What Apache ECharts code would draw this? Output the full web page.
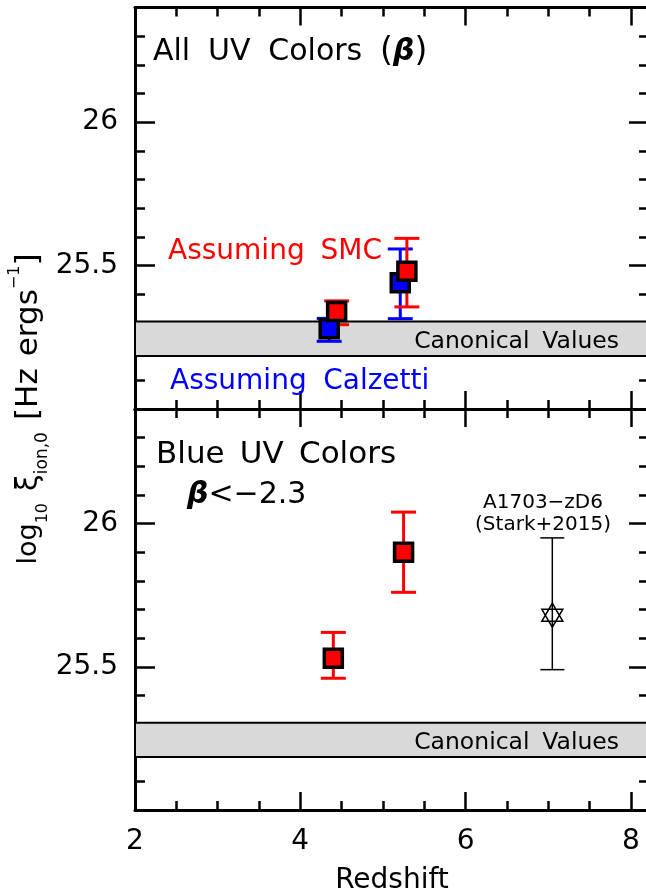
<!DOCTYPE html>
<html><head><meta charset="utf-8">
<script src="https://cdn.jsdelivr.net/npm/echarts@6/dist/echarts.min.js"></script>
<style>html,body{margin:0;padding:0;background:#fff;overflow:hidden}#c{width:646px;height:889px}</style>
</head><body><div id="c"></div><script>
// ---- data ----
const calzettiZ  = [4.35, 5.21];
const calzettiXi = [25.28, 25.44];
const calzettiLo = [25.236, 25.315];
const calzettiHi = [25.316, 25.558];

const smcZ  = [4.44, 5.29];
const smcXi = [25.34, 25.48];
const smcLo = [25.294, 25.356];
const smcHi = [25.377, 25.595];

const blueZ  = [4.40, 5.25];
const blueXi = [25.53, 25.90];
const blueLo = [25.46, 25.76];
const blueHi = [25.62, 26.04];

const starkZ  = [7.05];
const starkXi = [25.68];
const starkLo = [25.49];
const starkHi = [25.95];

const canonicalBand = [25.185, 25.305];

const xTickLabels = ['2', '4', '6', '8'];
const yTickLabels = ['25.5', '26'];

// ---- layout / style ----
const FONT = 'DejaVu Sans';
const X_MIN = 2, X_MAX = 8.22, Y_MIN = 25, Y_MAX = 26.4;
const RED = '#ff0000', BLUE = '#0000ff';

const grids = [
  {left: 135, top: 7.5, width: 514, height: 401.5, outerBoundsMode: 'none', containLabel: false},
  {left: 135, top: 409, width: 514, height: 401, outerBoundsMode: 'none', containLabel: false}
];

const xAxes = [], yAxes = [];
for (let g = 0; g < 2; g++) {
  for (const pos of ['bottom', 'top']) {
    for (const major of [true, false]) {
      const showLabel = g === 1 && pos === 'bottom' && major;
      xAxes.push({
        type: 'value', gridIndex: g, position: pos, min: X_MIN, max: X_MAX,
        interval: major ? 2 : 0.5,
        axisLine: {show: major, onZero: false, lineStyle: {color: '#000', width: 3}},
        axisTick: {show: true, inside: true, length: major ? 18 : 9, lineStyle: {color: '#000', width: 2.5}},
        axisLabel: {
          show: showLabel, margin: 18, color: '#000', fontFamily: FONT, fontSize: 28,
          formatter: v => { const s = xTickLabels.find(l => Math.abs(Number(l) - v) < 1e-6); return s || ''; }
        },
        splitLine: {show: false},
        name: showLabel ? 'Redshift' : '', nameLocation: 'middle', nameGap: 57,
        nameTextStyle: {color: '#000', fontFamily: FONT, fontSize: 28}
      });
    }
  }
  for (const pos of ['left', 'right']) {
    for (const major of [true, false]) {
      const showLabel = pos === 'left' && major;
      yAxes.push({
        type: 'value', gridIndex: g, position: pos, min: Y_MIN, max: Y_MAX,
        interval: major ? 0.5 : 0.1,
        axisLine: {show: major, onZero: false, lineStyle: {color: '#000', width: 3}},
        axisTick: {show: true, inside: true, length: major ? 20 : 10, lineStyle: {color: '#000', width: 2.5}},
        axisLabel: {
          show: showLabel, margin: 17, color: '#000', fontFamily: FONT, fontSize: 28,
          formatter: v => { const s = yTickLabels.find(l => Math.abs(Number(l) - v) < 1e-6); return s || ''; }
        },
        splitLine: {show: false}
      });
    }
  }
}

function errRender(color, lw, cap) {
  return function (params, api) {
    const x = api.value(0), lo = api.value(1), hi = api.value(2);
    const pLo = api.coord([x, lo]), pHi = api.coord([x, hi]);
    const style = {stroke: color, lineWidth: lw};
    return {type: 'group', children: [
      {type: 'line', shape: {x1: pLo[0], y1: pLo[1], x2: pHi[0], y2: pHi[1]}, style},
      {type: 'line', shape: {x1: pLo[0] - cap / 2, y1: pLo[1], x2: pLo[0] + cap / 2, y2: pLo[1]}, style},
      {type: 'line', shape: {x1: pHi[0] - cap / 2, y1: pHi[1], x2: pHi[0] + cap / 2, y2: pHi[1]}, style}
    ]};
  };
}
const zip3 = (a, b, c) => a.map((v, i) => [v, b[i], c[i]]);
const zip2 = (a, b) => a.map((v, i) => [v, b[i]]);

function errSeries(g, z, lo, hi, color, lw, cap) {
  return {type: 'custom', xAxisIndex: g * 4, yAxisIndex: g * 4, data: zip3(z, lo, hi),
    encode: {x: 0, y: [1, 2]}, renderItem: errRender(color, lw, cap), silent: true, z: 3};
}
function sqSeries(g, z, y, color, extra) {
  return Object.assign({type: 'scatter', xAxisIndex: g * 4, yAxisIndex: g * 4, data: zip2(z, y),
    symbol: 'rect', symbolSize: 18,
    itemStyle: {color: color, borderColor: '#000', borderWidth: 3.5, opacity: 1},
    silent: true, z: 4}, extra || {});
}
function band() {
  return {silent: true, itemStyle: {color: '#d9d9d9', borderColor: '#000', borderWidth: 2},
    data: [[{yAxis: canonicalBand[0]}, {yAxis: canonicalBand[1]}]]};
}

const STAR = 'path://M0,-10L8.66,5L-8.66,5Z M0,10L-8.66,-5L8.66,-5Z';

const series = [
  sqSeries(0, [], [], '#fff', {markArea: band()}),
  errSeries(0, calzettiZ, calzettiLo, calzettiHi, BLUE, 3, 25),
  sqSeries(0, calzettiZ, calzettiXi, BLUE),
  errSeries(0, smcZ, smcLo, smcHi, RED, 3, 25),
  sqSeries(0, smcZ, smcXi, RED),
  sqSeries(1, [], [], '#fff', {markArea: band()}),
  errSeries(1, blueZ, blueLo, blueHi, RED, 3, 25),
  sqSeries(1, blueZ, blueXi, RED),
  errSeries(1, starkZ, starkLo, starkHi, '#000', 1.5, 24),
  {type: 'scatter', xAxisIndex: 4, yAxisIndex: 4, data: zip2(starkZ, starkXi),
    symbol: STAR, symbolSize: [21, 24],
    itemStyle: {color: 'rgba(0,0,0,0)', borderColor: '#000', borderWidth: 1.5, opacity: 1},
    silent: true, z: 4}
];

// text with wide (IDL-like) word spacing: words in style n, spaces in style s
function spaced(str) {
  return str.split(' ').map(w => w ? '{n|' + w + '}' : '').join('{s| }');
}
function txt(x, y, text, size, color, align, spaceSize, extraRich) {
  const rich = Object.assign({
    n: {fontFamily: FONT, fontSize: size, fill: color, lineHeight: size + 6},
    s: {fontFamily: FONT, fontSize: spaceSize || size, fill: color, lineHeight: size + 6}
  }, extraRich || {});
  return {type: 'text', x: x, y: y, silent: true, z: 10,
    style: {text: text, rich: rich, fill: color, fontFamily: FONT, fontSize: size,
      align: align || 'left', verticalAlign: 'middle'}};
}
const betaB = s => ({b: {fontFamily: FONT, fontWeight: 'bold', fontStyle: 'italic', fontSize: s, fill: '#000', lineHeight: s + 6},
                     p: {fontFamily: FONT, fontSize: s + 3, fill: '#000', lineHeight: s + 6}});

const graphic = [
  txt(153, 52, spaced('All UV Colors') + '{s| }{p|(}{b|β}{p|)}', 30, '#000', 'left', 56, betaB(30)),
  txt(168, 252, spaced('Assuming SMC'), 28, RED, 'left', 50),
  txt(170, 382, spaced('Assuming Calzetti'), 28, BLUE, 'left', 52),
  txt(619, 342, spaced('Canonical Values'), 23.5, '#000', 'right', 40),
  txt(156, 455, spaced('Blue UV Colors'), 31, '#000', 'left', 48),
  txt(187, 495, '{b|β}{n|<−2.3}', 30, '#000', 'left', 30, betaB(30)),
  txt(543, 503, '{n|A1703−zD6}', 20, '#000', 'center'),
  txt(543, 525, '{n|(Stark+2015)}', 20, '#000', 'center'),
  txt(619, 743, spaced('Canonical Values'), 23.5, '#000', 'right', 40),
  {type: 'text', x: 29, y: 409, rotation: Math.PI / 2, silent: true, z: 10,
    style: {
      text: '{a|log}{b|10}{g| }{c|ξ}{d|ion,0}{g| }{e|[Hz}{g| }{e|ergs}{f|−1}{e|]}',
      fontFamily: FONT, fontSize: 26, fill: '#000', align: 'center', verticalAlign: 'middle',
      rich: {
        a: {fontFamily: FONT, fontSize: 27, lineHeight: 44},
        b: {fontFamily: FONT, fontSize: 16, lineHeight: 30, verticalAlign: 'bottom'},
        g: {fontFamily: FONT, fontSize: 38, lineHeight: 44},
        c: {fontFamily: FONT, fontSize: 30, lineHeight: 44},
        d: {fontFamily: FONT, fontSize: 17, lineHeight: 31, verticalAlign: 'bottom'},
        e: {fontFamily: FONT, fontSize: 31, lineHeight: 44},
        f: {fontFamily: FONT, fontSize: 16, lineHeight: 8, verticalAlign: 'top'}
      }
    }}
];

const chart = echarts.init(document.getElementById('c'), null, {renderer: 'canvas'});
chart.setOption({
  animation: false,
  backgroundColor: '#fff',
  grid: grids,
  xAxis: xAxes,
  yAxis: yAxes,
  series: series,
  graphic: graphic
});
</script></body></html>
